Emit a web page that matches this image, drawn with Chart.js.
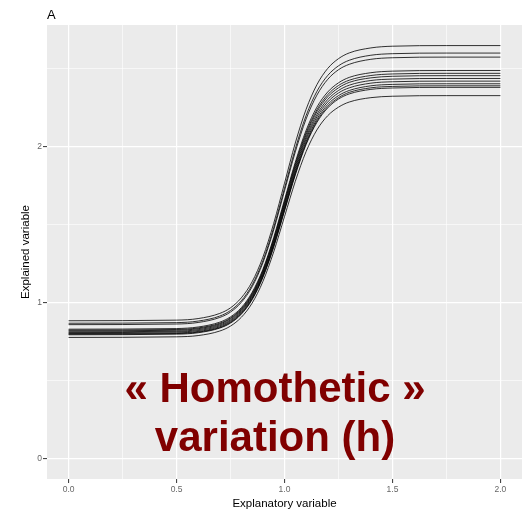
<!DOCTYPE html>
<html>
<head>
<meta charset="utf-8">
<script src="https://cdn.jsdelivr.net/npm/chart.js@4/dist/chart.umd.min.js"></script>
<style>
  html, body { margin: 0; padding: 0; background: #ffffff; }
  #wrap { width: 527px; height: 515px; }
</style>
</head>
<body>
<div id="wrap"><canvas id="c" width="527" height="515"></canvas></div>
<script>
// ---- data ----
const xValues = [0, 0.5, 0.6, 0.7, 0.75, 0.8, 0.85, 0.9, 0.95, 1.0, 1.05, 1.1, 1.15, 1.2, 1.25, 1.3, 1.4, 1.5, 1.75, 2.0];

const curve1  = [0.883, 0.887, 0.897, 0.930, 0.966, 1.030, 1.133, 1.291, 1.508, 1.765, 2.023, 2.239, 2.397, 2.501, 2.564, 2.601, 2.633, 2.644, 2.648, 2.648];
const curve2  = [0.867, 0.871, 0.881, 0.913, 0.949, 1.011, 1.113, 1.268, 1.481, 1.733, 1.986, 2.199, 2.354, 2.456, 2.518, 2.554, 2.586, 2.596, 2.600, 2.600];
const curve3  = [0.858, 0.862, 0.872, 0.904, 0.939, 1.001, 1.101, 1.255, 1.466, 1.716, 1.966, 2.177, 2.330, 2.431, 2.493, 2.528, 2.560, 2.570, 2.574, 2.574];
const curve4  = [0.829, 0.833, 0.843, 0.874, 0.908, 0.967, 1.065, 1.213, 1.417, 1.659, 1.900, 2.104, 2.253, 2.350, 2.409, 2.444, 2.474, 2.484, 2.488, 2.488];
const curve5  = [0.823, 0.827, 0.837, 0.867, 0.901, 0.960, 1.057, 1.205, 1.407, 1.647, 1.887, 2.089, 2.236, 2.333, 2.392, 2.426, 2.456, 2.466, 2.470, 2.470];
const curve6  = [0.818, 0.822, 0.832, 0.862, 0.896, 0.954, 1.050, 1.197, 1.398, 1.637, 1.875, 2.076, 2.223, 2.319, 2.377, 2.412, 2.441, 2.451, 2.455, 2.455];
const curve7  = [0.812, 0.816, 0.826, 0.856, 0.889, 0.948, 1.043, 1.189, 1.388, 1.625, 1.861, 2.061, 2.206, 2.302, 2.360, 2.394, 2.424, 2.433, 2.437, 2.437];
const curve8  = [0.807, 0.811, 0.820, 0.850, 0.883, 0.941, 1.036, 1.180, 1.378, 1.613, 1.848, 2.047, 2.191, 2.286, 2.344, 2.377, 2.407, 2.416, 2.420, 2.420];
const curve9  = [0.801, 0.805, 0.814, 0.844, 0.877, 0.934, 1.028, 1.172, 1.369, 1.602, 1.835, 2.032, 2.176, 2.270, 2.327, 2.360, 2.390, 2.399, 2.403, 2.403];
const curve10 = [0.797, 0.801, 0.810, 0.839, 0.872, 0.929, 1.023, 1.166, 1.361, 1.593, 1.825, 2.021, 2.164, 2.257, 2.314, 2.348, 2.377, 2.386, 2.390, 2.390];
const curve11 = [0.793, 0.797, 0.806, 0.836, 0.868, 0.925, 1.018, 1.161, 1.355, 1.587, 1.818, 2.013, 2.155, 2.248, 2.305, 2.338, 2.367, 2.376, 2.380, 2.380];
const curve12 = [0.776, 0.780, 0.788, 0.817, 0.849, 0.905, 0.996, 1.135, 1.325, 1.551, 1.777, 1.968, 2.107, 2.198, 2.253, 2.286, 2.314, 2.323, 2.327, 2.327];

const curves = [curve1, curve2, curve3, curve4, curve5, curve6, curve7, curve8, curve9, curve10, curve11, curve12];

const xTickValues = [0, 0.25, 0.5, 0.75, 1.0, 1.25, 1.5, 1.75, 2.0];
const xTickLabels = ['0.0', '', '0.5', '', '1.0', '', '1.5', '', '2.0'];
const yTickValues = [0, 0.5, 1, 1.5, 2, 2.5];
const yTickLabels = ['0', '', '1', '', '2', ''];

const panelTitle = 'A';
const xTitle = 'Explanatory variable';
const yTitle = 'Explained variable';
const overlayLines = ['« Homothetic »', 'variation (h)'];

// ---- chart ----
const FONT = "'Liberation Sans', Arial, Helvetica, sans-serif";

const datasets = curves.map((c, i) => ({
  label: 'curve' + (i + 1),
  data: xValues.map((x, j) => ({ x: x, y: c[j] })),
  borderColor: '#000000',
  borderWidth: 0.8,
  pointRadius: 0,
  fill: false,
  cubicInterpolationMode: 'monotone'
}));

function labelFor(values, labels, v) {
  const i = values.findIndex(t => Math.abs(t - v) < 1e-9);
  return i >= 0 ? labels[i] : '';
}
function isMajor(values, labels, v) {
  return labelFor(values, labels, v) !== '';
}

const panelBg = {
  id: 'panelBg',
  beforeDraw(chart) {
    const { ctx, chartArea: a } = chart;
    ctx.save();
    ctx.fillStyle = '#EBEBEB';
    ctx.fillRect(a.left, a.top, a.right - a.left, a.bottom - a.top);
    ctx.restore();
  }
};

const annotations = {
  id: 'annotations',
  afterDraw(chart) {
    const { ctx, chartArea: a } = chart;
    ctx.save();
    ctx.fillStyle = '#000000';
    ctx.font = '13px ' + FONT;
    ctx.textAlign = 'left';
    ctx.textBaseline = 'alphabetic';
    ctx.fillText(panelTitle, a.left, 19);

    ctx.fillStyle = '#800000';
    ctx.font = 'bold 42px ' + FONT;
    ctx.textAlign = 'center';
    ctx.fillText(overlayLines[0], 275, 401.5);
    ctx.fillText(overlayLines[1], 275, 450.5);
    ctx.restore();
  }
};

new Chart(document.getElementById('c'), {
  type: 'line',
  data: { datasets: datasets },
  plugins: [panelBg, annotations],
  options: {
    responsive: false,
    animation: false,
    layout: { padding: { top: 25, right: 5, bottom: 0, left: 0 } },
    plugins: {
      legend: { display: false },
      tooltip: { enabled: false },
      title: { display: false }
    },
    scales: {
      x: {
        type: 'linear',
        min: -0.1,
        max: 2.1,
        afterBuildTicks(s) { s.ticks = xTickValues.map(v => ({ value: v })); },
        afterFit(s) { s.height = 36; },
        border: { display: false },
        grid: {
          color: '#FFFFFF',
          lineWidth: c => isMajor(xTickValues, xTickLabels, c.tick.value) ? 1.2 : 0.6,
          drawTicks: true,
          tickLength: 4,
          tickWidth: 1,
          tickColor: c => isMajor(xTickValues, xTickLabels, c.tick.value) ? '#333333' : 'rgba(0,0,0,0)'
        },
        ticks: {
          autoSkip: false,
          maxRotation: 0,
          padding: 2,
          color: '#666666',
          font: { family: FONT, size: 8.5 },
          callback: v => labelFor(xTickValues, xTickLabels, v)
        },
        title: {
          display: true,
          text: xTitle,
          color: '#000000',
          font: { family: FONT, size: 11.5 },
          padding: { top: 0, bottom: 4 }
        }
      },
      y: {
        type: 'linear',
        min: -0.132,
        max: 2.78,
        afterBuildTicks(s) { s.ticks = yTickValues.map(v => ({ value: v })); },
        afterFit(s) { s.width = 47; },
        border: { display: false },
        grid: {
          color: '#FFFFFF',
          lineWidth: c => isMajor(yTickValues, yTickLabels, c.tick.value) ? 1.2 : 0.6,
          drawTicks: true,
          tickLength: 4,
          tickWidth: 1,
          tickColor: c => isMajor(yTickValues, yTickLabels, c.tick.value) ? '#333333' : 'rgba(0,0,0,0)'
        },
        ticks: {
          autoSkip: false,
          padding: 1,
          color: '#666666',
          font: { family: FONT, size: 8.5 },
          callback: v => labelFor(yTickValues, yTickLabels, v)
        },
        title: {
          display: true,
          text: yTitle,
          color: '#000000',
          font: { family: FONT, size: 11.5 },
          padding: { top: 19, bottom: 0 }
        }
      }
    }
  }
});
</script>
</body>
</html>
